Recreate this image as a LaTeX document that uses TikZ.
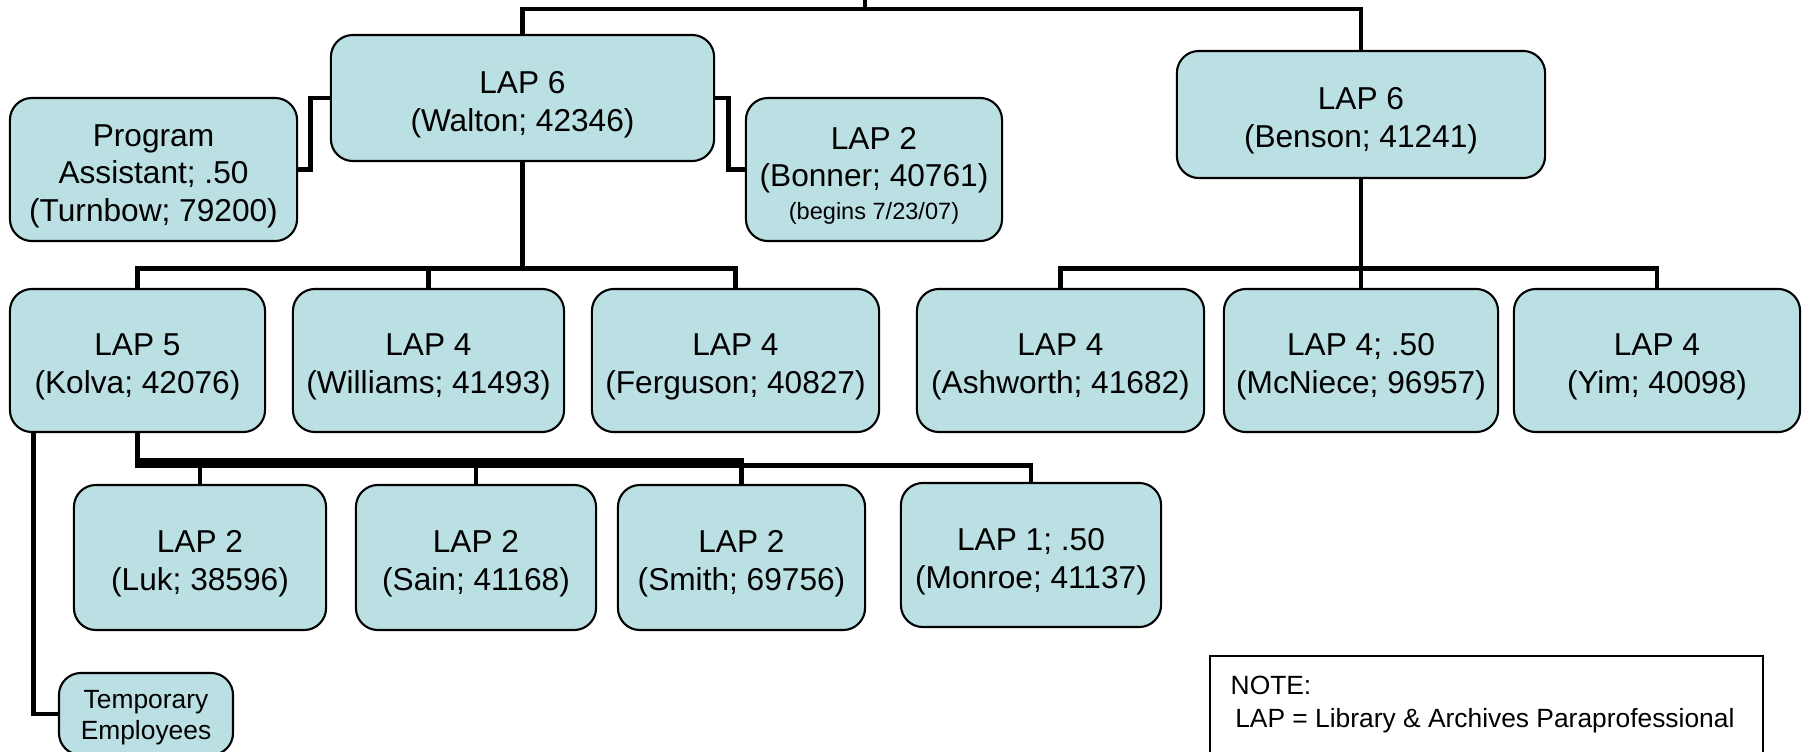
\documentclass[tikz,border=0pt]{standalone}
\usepackage{fontspec}
\setmainfont{Liberation Sans}
\usetikzlibrary{calc}
\definecolor{boxfill}{RGB}{187,224,227}
\newcommand{\tallstrut}{\rule{0pt}{10pt}}
\newcommand{\smallstrut}{\rule{0pt}{7.4pt}}

\begin{document}
\begin{tikzpicture}[x=0.01cm,y=-0.01cm,
        box/.style={draw=black,line width=0.6pt,fill=boxfill,rounded corners=0.22cm,
            align=center,inner sep=0pt,font=\fontsize{9}{10.7}\selectfont},
        small/.style={font=\fontsize{7.5}{8.8}\selectfont},
        link/.style={line width=1.4pt}]
    \useasboundingbox (0,0) rectangle (1808,751);
    % top level
    \node[box,minimum width=3.83cm,minimum height=1.26cm] (walton) at (522.5,98) {\tallstrut LAP 6\\(Walton; 42346)};
    \node[box,minimum width=3.68cm,minimum height=1.27cm] (benson) at (1361,114.5) {\tallstrut LAP 6\\(Benson; 41241)};
    \node[box,minimum width=2.87cm,minimum height=1.43cm] (pa) at (153.5,169.5) {\tallstrut Program\\Assistant; .50\\(Turnbow; 79200)};
    \node[box,minimum width=2.56cm,minimum height=1.43cm] (bonner) at (874,169.5)
        {\tallstrut LAP 2\\(Bonner; 40761)\\[-1.3pt]{\fontsize{6.7}{8}\selectfont (begins 7/23/07)}};
    % second row
    \node[box,minimum width=2.55cm,minimum height=1.43cm] (kolva) at (137.5,360.5) {\tallstrut LAP 5\\(Kolva; 42076)};
    \node[box,minimum width=2.71cm,minimum height=1.43cm] (williams) at (428.5,360.5) {\tallstrut LAP 4\\(Williams; 41493)};
    \node[box,minimum width=2.87cm,minimum height=1.43cm] (ferguson) at (735.5,360.5) {\tallstrut LAP 4\\(Ferguson; 40827)};
    \node[box,minimum width=2.87cm,minimum height=1.43cm] (ashworth) at (1060.5,360.5) {\tallstrut LAP 4\\(Ashworth; 41682)};
    \node[box,minimum width=2.74cm,minimum height=1.43cm] (mcniece) at (1361,360.5) {\tallstrut LAP 4; .50\\(McNiece; 96957)};
    \node[box,minimum width=2.86cm,minimum height=1.43cm] (yim) at (1657,360.5) {\tallstrut LAP 4\\(Yim; 40098)};
    % third row
    \node[box,minimum width=2.52cm,minimum height=1.45cm] (luk) at (200,557.5) {\tallstrut LAP 2\\(Luk; 38596)};
    \node[box,minimum width=2.40cm,minimum height=1.45cm] (sain) at (476,557.5) {\tallstrut LAP 2\\(Sain; 41168)};
    \node[box,minimum width=2.47cm,minimum height=1.45cm] (smith) at (741.5,557.5) {\tallstrut LAP 2\\(Smith; 69756)};
    \node[box,minimum width=2.60cm,minimum height=1.44cm] (monroe) at (1031,555) {\tallstrut LAP 1; .50\\(Monroe; 41137)};
    \node[box,small,minimum width=1.74cm,minimum height=0.82cm] (temp) at (146,714) {\smallstrut Temporary\\Employees};

    % connectors
    \coordinate (top) at (865,0);
    \draw[link] (walton.north) |- (865,9) coordinate (tb) -| (benson.north);
    \draw[link] (top) -- (tb);
    \draw[link] (walton.west) -- ++(-19,0) |- (pa.east);
    \draw[link] (walton.east) -- ++(13,0) |- (bonner.west);
    \draw[link] (walton.south) -- ++(0,106) coordinate (wb);
    \draw[link] (kolva.north) |- (wb) -| (ferguson.north);
    \draw[link] (williams.north) -- (williams.north |- wb);
    \draw[link] (benson.south) -- ++(0,89) coordinate (bb);
    \draw[link] (ashworth.north) |- (bb) -| (yim.north);
    \draw[link] (mcniece.north) -- (mcniece.north |- bb);
    \draw[link] (kolva.south) -- ++(0,32) coordinate (kb) -| (monroe.north);
    \draw[link] (kolva.south) -- ++(0,27) -| (smith.north);
    \foreach \n in {luk,sain}
        \draw[link] (\n.north) -- (\n.north |- kb);
    \draw[link] ($(kolva.south west)+(25,0)$) |- (temp.west);

    % note
    \draw[line width=0.6pt] (1210,656) rectangle (1763,790);
    \node[small,font=\fontsize{7.5}{9.5}\selectfont,anchor=north west,align=left,inner sep=0pt] (note) at (1230,675)
        {NOTE:\\\hspace{1.3pt}LAP = Library \& Archives Paraprofessional};
\end{tikzpicture}
\end{document}
